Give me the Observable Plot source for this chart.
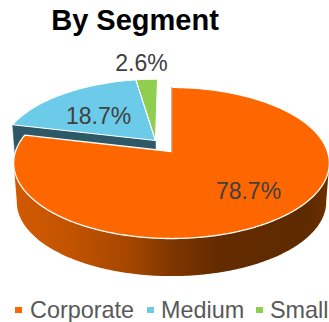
<!DOCTYPE html>
<html>
<head>
<meta charset="utf-8">
<script src="https://cdn.jsdelivr.net/npm/d3@7"></script>
<script src="https://cdn.jsdelivr.net/npm/@observablehq/plot@0.6"></script>
<style>
  html, body { margin: 0; padding: 0; background: #fff; }
  #chart { width: 329px; height: 322px; overflow: hidden; font-family: "Liberation Sans", Arial, sans-serif; }
  #title { height: 42px; line-height: 41px; font-size: 29px; font-weight: bold; color: #000; text-align: center; padding-right: 59px; box-sizing: border-box; white-space: nowrap; }
  #chart svg { display: block; }
  #legend { position: relative; height: 40px; color: #595959; font-size: 23.4px; }
  #legend span { position: absolute; top: 14px; line-height: 28px; white-space: nowrap; }
  #legend i { position: absolute; top: 25px; width: 7px; height: 6px; }
</style>
</head>
<body>
<div id="chart"></div>
<script>
const segments = ["Corporate", "Medium", "Small"];
const shares = [78.7, 18.7, 2.6];
const sliceColors = ["#fe6600", "#6bcbe8", "#8fce4f"];
const labelRadius = [0.677, 0.536, 1.308];
const labelTurn = [-4, -5, -1];
const wallOffsets = [0, 0.18, 0.37, 0.5, 0.65, 0.93, 1];
const wallShades = ["#d25a00", "#c25300", "#a54600", "#7f3600", "#642b00", "#5e2a00", "#6e3000"];
const cutShade = "#2e5866";

// Pie geometry, in radii of the disc
const tilt = -0.152;        // perspective strength of the tilted disc
const depth = 0.5325;       // height of the wall
const shrink = 0.02;        // the lower rim sits slightly further away
const pulled = {u: -0.105, v: -0.153}; // offset of the exploded slices

// Cumulative angles (degrees clockwise from twelve o'clock)
const total = d3.sum(shares);
let running = 0;
const slices = shares.map((s, i) => {
  const start = running;
  running += s / total * 360;
  return {i, start, end: running, mid: (start + running) / 2, share: s};
});

// Disc coordinates to projected coordinates; z = 0 top face, z = 1 lower rim
function project(u, v, z = 0) {
  const w = 1 + tilt * v;
  const s = 1 - shrink * z;
  return {x: u / w * s, y: v / w * s + depth * z};
}
function rim(angle, offset = {u: 0, v: 0}, r = 1) {
  const a = angle * Math.PI / 180;
  return {u: offset.u + r * Math.sin(a), v: offset.v - r * Math.cos(a)};
}
function arc(a0, a1, offset, z = 0) {
  const n = Math.max(2, Math.ceil(Math.abs(a1 - a0)));
  return d3.range(n + 1).map(k => {
    const p = rim(a0 + (a1 - a0) * k / n, offset);
    return project(p.u, p.v, z);
  });
}
function wedge(slice, offset) {
  const apex = project(offset.u, offset.v);
  return [apex, ...arc(slice.start, slice.end, offset), apex];
}

const none = {u: 0, v: 0};
const [corporate, medium, small] = slices;

// Outer wall of the large slice, between the two points where the rim turns away
const turnRight = Math.acos(tilt) * 180 / Math.PI;
const turnLeft = 360 - turnRight;
const wallEdge = [...arc(turnRight, turnLeft, none), ...arc(turnLeft, turnRight, none, 1)];

// Cut face of the exploded part, seen along the edge next to the large slice
const cutEdge = rim(medium.start, pulled);
const cutFace = [
  project(pulled.u, pulled.v),
  project(cutEdge.u, cutEdge.v),
  project(cutEdge.u, cutEdge.v, 1),
  project(pulled.u, pulled.v, 1),
  project(pulled.u, pulled.v)
];

// Cut edge at twelve o'clock
const topEdge = [project(0, 0), project(rim(0).u, rim(0).v)];

// One label per slice
const labels = slices.map((s, i) => {
  const offset = i === 0 ? none : pulled;
  const p = rim(s.mid + labelTurn[i], offset, labelRadius[i]);
  return {...project(p.u, p.v), text: s.share.toFixed(1) + "%"};
});

function wallGradient() {
  const g = d3.create("svg:linearGradient").attr("id", "wall").attr("x1", 0).attr("x2", 1).attr("y1", 0).attr("y2", 0);
  wallOffsets.forEach((o, i) => g.append("stop").attr("offset", o).attr("stop-color", wallShades[i]));
  const defs = d3.create("svg:defs");
  defs.append(() => g.node());
  return defs.node();
}

const plot = Plot.plot({
  width: 329,
  height: 240,
  margin: 0,
  style: {background: "transparent", fontFamily: "'Liberation Sans', Arial, sans-serif"},
  x: {domain: [-171 / 156, 158 / 156], range: [0, 329], axis: null},
  y: {domain: [-109 / 73.8, 131 / 73.8], range: [0, 240], axis: null},
  marks: [
    wallGradient,
    Plot.line(cutFace, {x: "x", y: "y", fill: cutShade, stroke: cutShade, strokeWidth: 0.5}),
    Plot.line(wedge(medium, pulled), {x: "x", y: "y", fill: sliceColors[1], stroke: "#fff", strokeWidth: 1.1}),
    Plot.line(wedge(small, pulled), {x: "x", y: "y", fill: sliceColors[2], stroke: "#fff", strokeWidth: 1.1}),
    Plot.line(wallEdge, {x: "x", y: "y", fill: "url(#wall)", stroke: "none"}),
    Plot.line(wedge(corporate, none), {x: "x", y: "y", fill: sliceColors[0], stroke: "#fff", strokeWidth: 1.3}),
    Plot.line(topEdge, {x: "x", y: "y", stroke: "#7a5a48", strokeWidth: 0.8, strokeOpacity: 0.6}),
    Plot.text(labels, {x: "x", y: "y", text: "text", fill: "#404040", fontSize: 23, stroke: "none"})
  ]
});

const root = document.getElementById("chart");
const title = document.createElement("div");
title.id = "title";
title.textContent = "By Segment";
root.append(title, plot);

// Legend row under the pie
const legend = document.createElement("div");
legend.id = "legend";
const swatchLeft = [15, 147, 256];
const labelLeft = [30, 161, 270];
segments.forEach((name, i) => {
  const swatch = document.createElement("i");
  swatch.style.left = swatchLeft[i] + "px";
  swatch.style.background = sliceColors[i];
  const label = document.createElement("span");
  label.style.left = labelLeft[i] + "px";
  label.textContent = name;
  legend.append(swatch, label);
});
root.append(legend);
</script>
</body>
</html>
